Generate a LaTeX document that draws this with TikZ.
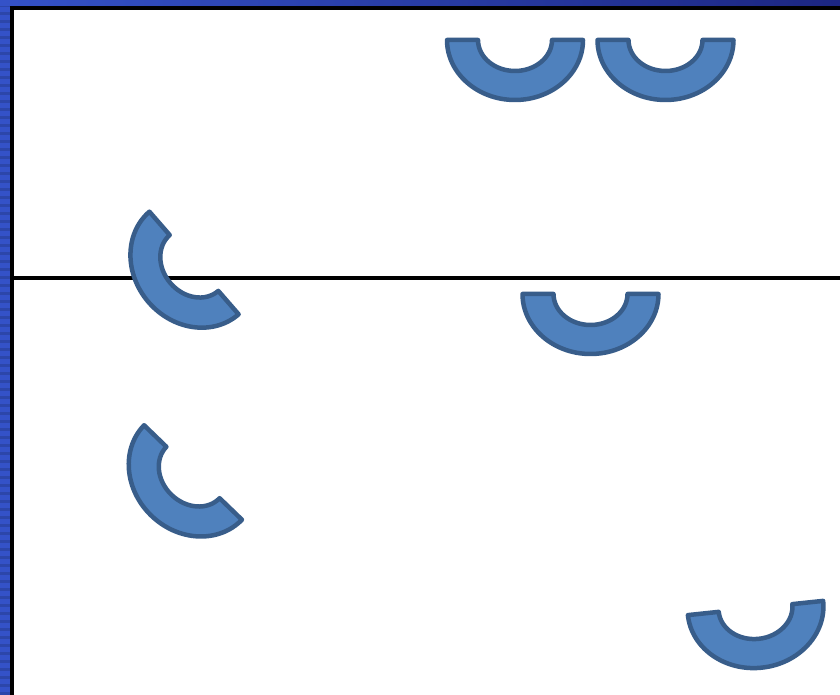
\documentclass[tikz,border=0pt]{standalone}
\usetikzlibrary{positioning}

\definecolor{arcfill}{RGB}{79,129,189}
\definecolor{arcdraw}{RGB}{56,93,138}
\definecolor{stripblue}{RGB}{52,82,200}
\definecolor{stripnavy}{RGB}{28,38,130}

\begin{document}
\begin{tikzpicture}[
        x=1pt, y=1pt,
        arcline/.style={draw=arcdraw, fill=arcfill, line width=4.5pt, line join=round},
        frame/.style={draw=black, line width=4.5pt},
        halfarc/.pic={
            \path[arcline] (-68,0) -- (-37,0)
                arc[start angle=180, end angle=360, x radius=37, y radius=31]
                -- (68,0)
                arc[start angle=0, end angle=-180, x radius=68, y radius=60]
                -- cycle;
        }
    ]
        \useasboundingbox (0,0) rectangle (840,695);
        \fill[white] (0,0) rectangle (840,695);
        % blue strips
        \fill[stripblue] (0,0) rectangle (10,695);
        \foreach \y in {0,8,...,690}
            \fill[stripblue!85!black] (0,\y) rectangle (10,\y+3);
        \shade[left color=stripblue, right color=stripnavy] (0,689) rectangle (840,695);
        % frame and divider
        \draw[frame] (12,0) -- (12,687) -- (840,687);
        \draw[black, line width=3.5pt] (12,417) -- (840,417);
        % arcs
        \pic at (515,655) {halfarc};
        \pic at (665.5,655) {halfarc};
        \pic at (590.5,401) {halfarc};
        \pic[rotate=6] at (755.5,87) {halfarc};
        \pic[rotate=-49] at (194,432) {halfarc};
        \pic[rotate=-44] at (193,222.5) {halfarc};
    \end{tikzpicture}
\end{document}
